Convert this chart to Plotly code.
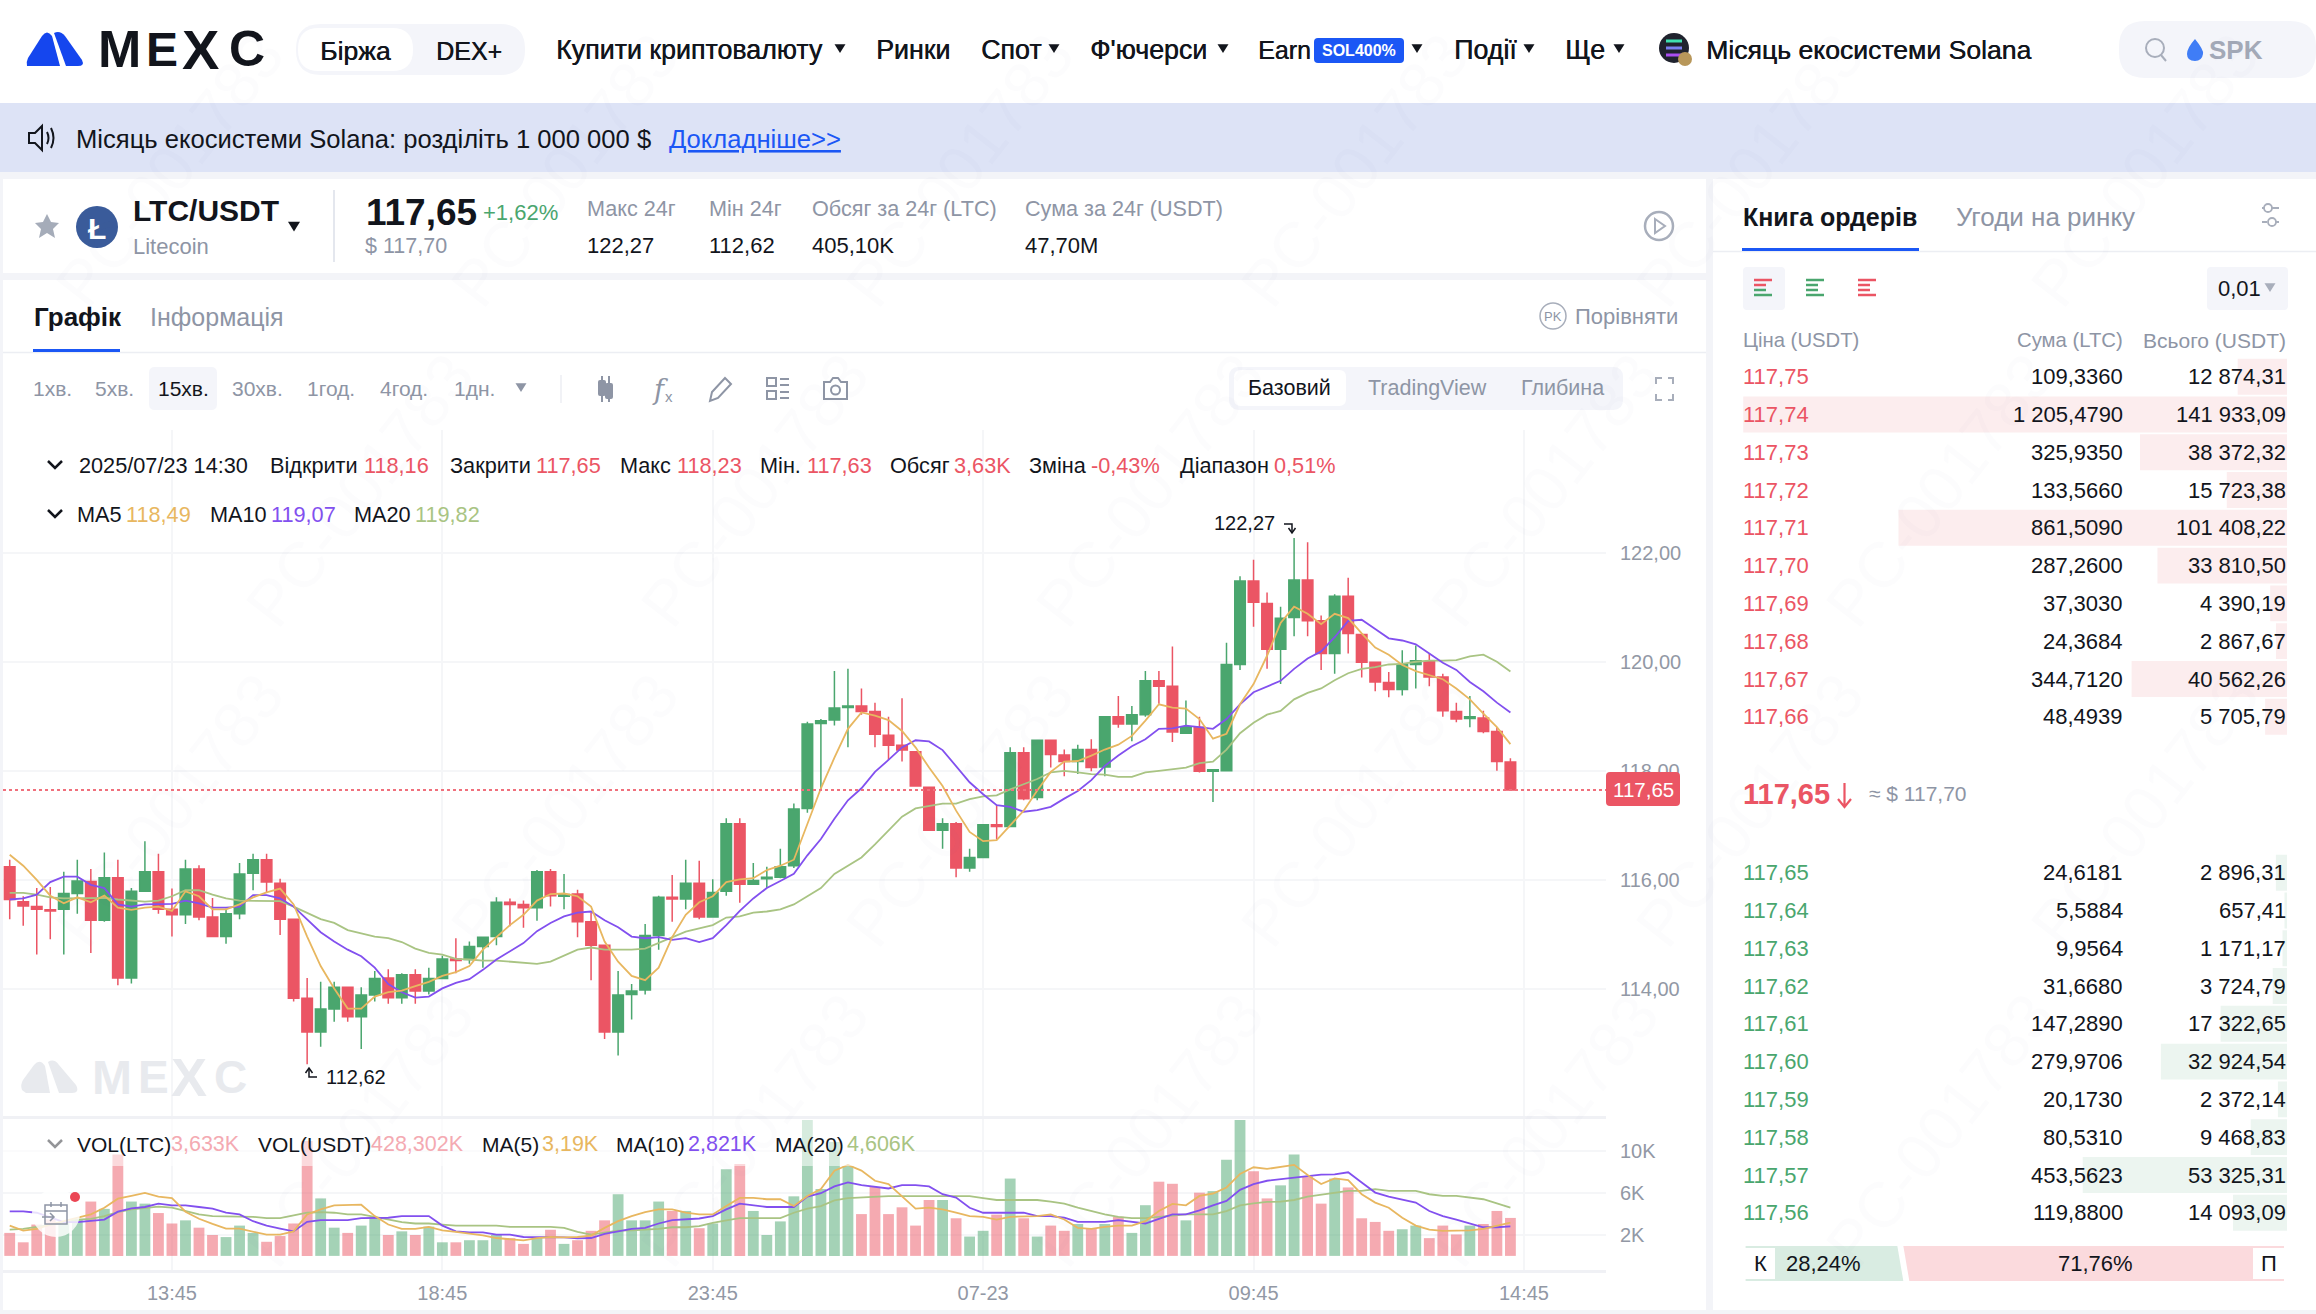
import re
import pandas as pd
import plotly.graph_objects as go

W, H = 2316, 1314
FONT = "Liberation Sans"
INK = "#12151c"
GREY = "#8e95a5"
RED = "#eb5564"
GREEN = "#4aa66e"
BLUE = "#1b57f5"
PANEL = "#f4f5fa"
ORANGE = "#e8b760"
PURPLE = "#8250ef"
SAGE = "#a9c483"
FAT = "0.45px 0 0 #12151c"

# 15 minute candles
times = pd.date_range("2025-07-22 10:45", periods=112, freq="15min")
opens = [116.24,115.60,115.51,115.45,115.46,115.75,115.97,115.26,116.04,114.20,115.79,116.15,115.46,115.36,116.20,115.32,114.96,115.38,116.12,116.37,
         115.94,115.28,113.83,113.21,113.63,114.03,113.49,113.89,114.20,113.84,114.26,113.96,114.19,114.55,114.54,114.78,114.96,115.59,115.55,115.49,
         116.15,115.70,115.74,115.23,114.80,113.21,113.90,113.98,114.98,115.68,115.65,115.94,115.32,115.79,117.03,115.92,116.02,116.05,116.26,117.31,
         118.87,118.93,119.16,119.19,119.09,118.65,118.47,118.35,117.70,116.91,117.03,116.22,116.41,117.01,116.98,118.33,117.51,118.56,118.29,118.17,
         118.39,118.07,118.99,118.86,119.03,119.65,119.55,118.69,118.80,117.99,118.00,119.95,121.48,121.07,120.23,120.81,121.50,120.75,120.15,121.20,
         120.50,119.99,119.62,119.49,119.95,120.00,119.72,119.09,118.96,118.97,118.72,118.16]
highs = [116.37,115.70,115.85,115.87,116.15,116.37,116.20,116.50,116.37,115.85,116.71,116.48,115.84,116.37,116.27,115.67,115.47,116.31,116.48,116.48,
         116.02,115.28,114.20,114.13,114.13,114.03,114.03,114.33,114.36,114.29,114.36,114.39,114.61,114.93,114.87,114.96,115.68,115.66,115.62,116.18,
         116.20,116.11,115.82,115.40,114.80,114.33,114.09,115.19,115.71,116.09,116.37,116.35,116.01,117.13,117.13,116.31,116.24,116.57,117.40,118.90,
         118.95,119.83,119.87,119.51,119.25,118.99,119.33,118.35,117.70,117.13,117.06,116.57,117.01,117.38,118.43,118.43,118.56,118.56,118.39,118.48,
         118.58,118.99,119.37,119.19,119.83,119.83,120.28,119.29,118.99,118.03,120.35,121.57,121.87,121.27,121.01,122.27,122.19,120.85,121.24,121.54,
         120.50,119.99,119.81,120.21,120.30,120.15,119.78,119.25,119.37,119.10,118.80,118.23]
lows = [115.28,115.16,114.63,114.91,114.63,115.38,114.66,115.23,114.07,114.10,115.79,115.38,114.96,115.19,115.26,114.96,114.83,115.28,115.81,115.77,
        114.99,113.77,112.62,112.94,113.40,113.40,112.90,113.77,113.73,113.73,113.73,113.90,114.19,114.29,114.46,114.39,114.80,115.15,115.12,115.25,
        115.51,115.46,114.95,114.16,113.08,112.78,113.44,113.90,114.72,115.23,115.46,115.28,115.32,115.71,115.58,115.92,115.85,116.03,116.22,117.23,
        117.64,118.83,118.43,119.03,118.43,118.20,118.17,117.72,116.90,116.57,116.05,116.15,116.41,116.74,116.97,117.46,117.46,118.06,117.90,117.94,
        117.99,117.90,118.79,118.54,118.99,119.23,118.53,118.69,117.97,117.43,118.00,119.85,120.64,119.87,119.59,120.47,120.47,119.85,119.78,120.15,
        119.71,119.46,119.35,119.38,119.51,119.55,118.99,118.89,118.80,118.69,118.00,117.63]
closes = [115.64,115.52,115.46,115.43,115.75,115.98,115.26,116.04,114.20,115.79,116.15,115.46,115.36,116.20,115.32,114.96,115.38,116.11,116.37,115.96,
          115.28,113.83,113.21,113.63,114.03,113.49,113.89,114.19,113.84,114.26,113.96,114.19,114.55,114.52,114.78,114.95,115.59,115.55,115.49,116.15,
          115.71,115.73,115.23,114.80,113.21,113.89,113.96,114.98,115.68,115.65,115.94,115.32,115.77,117.03,115.92,115.99,116.05,116.24,117.30,118.86,
          118.92,119.15,119.19,119.09,118.67,118.47,118.38,117.72,116.91,117.03,116.22,116.41,117.01,116.98,118.33,117.49,118.56,118.30,118.17,118.39,
          118.06,118.99,118.86,119.03,119.65,119.55,118.71,118.81,117.99,118.02,119.95,121.48,121.09,120.23,120.80,121.50,120.75,120.15,121.20,120.52,
          119.99,119.63,119.49,119.95,120.02,119.72,119.10,118.95,118.99,118.72,118.17,117.65]

ma5 = [116.46,116.26,116.00,115.71,115.57,115.68,115.59,115.71,115.49,115.45,115.49,115.51,115.43,115.79,115.70,115.46,115.46,115.55,115.68,115.77,
       115.84,115.55,114.96,114.42,114.01,113.64,113.64,113.86,113.94,113.97,114.05,114.13,114.24,114.31,114.42,114.72,114.95,115.17,115.36,115.62,
       115.74,115.75,115.70,115.51,114.87,114.50,114.24,114.16,114.39,114.95,115.36,115.59,115.70,115.96,116.01,116.03,116.18,116.26,116.37,117.04,
       117.68,118.24,118.77,119.07,119.01,118.93,118.73,118.43,118.06,117.72,117.27,116.88,116.71,116.73,117.01,117.27,117.64,117.98,118.17,118.18,
       118.28,118.39,118.48,118.64,118.92,119.22,119.16,119.14,118.95,118.59,118.68,119.22,119.59,120.11,120.71,121.01,120.88,120.69,120.88,120.80,
       120.52,120.26,120.13,119.94,119.83,119.75,119.68,119.51,119.31,119.05,118.80,118.49]
ma10 = [115.64,115.66,115.73,115.96,116.06,116.06,115.91,115.85,115.55,115.51,115.55,115.56,115.56,115.62,115.57,115.49,115.49,115.51,115.72,115.72,
        115.66,115.51,115.28,115.04,114.87,114.72,114.60,114.39,114.09,113.94,113.84,113.86,114.01,114.11,114.18,114.35,114.54,114.69,114.84,115.06,
        115.21,115.33,115.40,115.42,115.26,115.13,114.96,114.93,114.95,114.90,114.93,114.86,114.93,115.17,115.43,115.66,115.85,115.98,116.11,116.45,
        116.75,117.12,117.46,117.68,117.98,118.20,118.43,118.56,118.54,118.38,118.09,117.79,117.57,117.37,117.34,117.25,117.28,117.34,117.49,117.63,
        117.83,118.09,118.28,118.45,118.58,118.77,118.78,118.83,118.80,118.77,118.95,119.22,119.44,119.55,119.65,119.87,120.06,120.19,120.45,120.75,
        120.77,120.60,120.43,120.39,120.32,120.15,119.98,119.85,119.63,119.46,119.25,119.07]
ma20 = [115.76,115.76,115.73,115.68,115.66,115.66,115.67,115.67,115.64,115.62,115.60,115.62,115.70,115.81,115.81,115.73,115.66,115.62,115.62,115.62,
        115.61,115.51,115.40,115.28,115.21,115.08,115.02,114.96,114.93,114.86,114.74,114.66,114.63,114.55,114.54,114.52,114.52,114.50,114.48,114.46,
        114.50,114.61,114.72,114.76,114.72,114.72,114.72,114.74,114.84,114.95,115.05,115.11,115.17,115.31,115.33,115.40,115.42,115.46,115.55,115.70,
        115.85,116.11,116.26,116.41,116.65,116.90,117.16,117.31,117.36,117.40,117.40,117.48,117.53,117.55,117.66,117.76,117.85,117.97,118.00,117.97,
        117.94,117.93,117.89,117.89,117.97,118.00,118.03,118.06,118.14,118.17,118.39,118.69,118.88,119.03,119.10,119.31,119.43,119.51,119.66,119.79,
        119.87,119.90,119.95,119.96,120.00,120.02,120.02,120.03,120.10,120.13,120.00,119.82]

# volume in thousands of LTC
volumes = [2.2,1.3,3.0,3.5,3.2,3.5,5.2,4.5,9.7,5.2,5.0,4.1,3.1,3.4,2.7,2.0,1.8,2.9,2.2,1.35,1.9,3.1,11.0,5.5,2.7,2.2,2.9,3.6,2.0,2.35,
           2.0,2.8,1.3,1.3,1.5,1.5,2.0,1.7,1.15,1.7,2.5,1.15,1.5,2.4,3.4,5.9,3.4,3.4,5.2,4.3,4.3,2.65,3.1,8.3,8.8,4.3,2.0,3.3,5.7,13.0,
           6.4,10.9,8.6,4.0,6.6,4.0,4.65,2.9,5.35,5.35,3.6,1.85,2.4,3.95,7.4,3.6,1.85,2.9,2.4,3.05,2.6,3.05,3.75,2.2,4.85,7.1,6.9,3.4,6.05,6.2,
           9.2,13.0,8.1,5.5,6.75,9.7,7.6,5.0,7.4,6.55,3.6,3.25,2.4,2.55,2.9,1.7,2.9,2.05,2.9,3.05,4.3,3.633]
vol_ma5 = [2.90,2.42,2.58,3.00,3.32,3.65,3.97,4.61,5.48,5.74,6.03,5.68,5.52,4.23,3.55,3.06,2.61,2.61,2.35,2.03,2.03,2.35,3.97,4.45,4.84,4.90,4.90,3.81,3.00,2.58,
           2.58,2.77,2.45,2.29,2.13,1.97,1.71,1.61,1.48,1.71,1.81,1.77,1.81,1.94,2.68,3.32,3.81,4.19,4.45,4.45,4.13,3.97,3.97,4.77,5.55,5.55,5.42,5.42,4.77,5.74,
           6.39,8.16,8.70,8.16,7.19,6.87,5.74,4.52,4.61,4.45,4.13,3.81,3.74,3.48,3.74,3.81,3.81,3.97,3.48,2.68,2.58,2.77,2.90,2.90,3.32,4.29,4.97,4.84,5.74,5.97,
           6.55,7.84,8.48,8.32,8.48,8.71,7.74,6.87,7.42,7.26,5.90,5.10,4.61,3.65,2.90,2.52,2.39,2.39,2.45,2.58,2.90,3.19]
vol_ma10 = [4.26,4.26,4.13,3.65,3.23,3.23,3.32,3.48,4.23,4.55,4.68,5.00,4.84,4.84,4.68,4.52,4.13,3.97,3.32,2.90,2.61,2.35,3.26,3.42,3.42,3.42,3.61,3.61,3.65,3.81,
            3.81,3.81,2.90,2.35,2.26,2.26,2.03,2.03,1.81,1.81,1.81,1.77,1.68,1.71,2.10,2.35,2.58,2.68,3.10,3.42,3.48,3.58,3.81,4.45,5.00,4.84,4.68,4.68,4.68,5.68,
            6.00,6.65,7.03,6.77,6.61,6.45,6.77,6.77,6.65,5.90,5.58,4.61,4.13,4.13,4.13,4.13,3.81,3.81,3.65,3.26,3.26,3.26,3.42,3.26,3.10,3.55,3.97,3.97,4.35,4.84,
            5.26,6.32,6.87,7.19,7.35,7.52,7.68,7.77,7.81,8.00,7.03,6.06,5.68,5.42,5.10,4.29,3.81,3.48,3.10,2.74,2.74,2.82]
vol_ma20 = [2.52,2.58,2.77,3.00,3.16,3.48,3.55,3.81,4.19,4.45,4.61,4.71,4.61,4.29,3.97,3.81,3.81,3.81,3.74,3.61,3.61,3.87,4.13,4.19,4.13,3.97,3.97,3.74,3.48,3.23,
            3.10,3.10,3.00,2.90,2.90,2.90,2.90,2.77,2.77,2.77,2.77,2.68,2.29,2.03,2.19,2.42,2.45,2.52,2.58,2.74,2.74,2.84,3.16,3.39,3.61,3.61,3.61,3.61,4.13,4.52,
            4.77,5.32,5.52,5.58,5.71,5.71,5.71,5.71,5.71,5.71,5.71,5.71,5.52,5.35,5.35,5.35,5.35,5.19,5.00,4.61,4.29,3.97,3.74,3.61,3.61,3.74,3.81,3.97,3.97,3.97,
            4.29,4.84,5.03,5.16,5.19,5.35,5.68,5.84,6.06,6.23,6.23,6.39,6.23,6.23,6.23,5.90,5.74,5.74,5.58,5.42,5.03,4.61]

for series in (opens, highs, lows, closes, ma5, ma10, ma20, volumes, vol_ma5, vol_ma10, vol_ma20):
    assert len(series) == 112, len(series)

price_ticks = [114, 116, 118, 120, 122]
vol_ticks = [2, 6, 10]
time_ticks = ["2025-07-22 13:45", "2025-07-22 18:45", "2025-07-22 23:45", "2025-07-23 04:45", "2025-07-23 09:45", "2025-07-23 14:45"]
time_labels = ["13:45", "18:45", "23:45", "07-23", "09:45", "14:45"]

ask_prices = ["117,75", "117,74", "117,73", "117,72", "117,71", "117,70", "117,69", "117,68", "117,67", "117,66"]
ask_sums = ["109,3360", "1 205,4790", "325,9350", "133,5660", "861,5090", "287,2600", "37,3030", "24,3684", "344,7120", "48,4939"]
ask_totals = [12874.31, 141933.09, 38372.32, 15723.38, 101408.22, 33810.50, 4390.19, 2867.67, 40562.26, 5705.79]
bid_prices = ["117,65", "117,64", "117,63", "117,62", "117,61", "117,60", "117,59", "117,58", "117,57", "117,56"]
bid_sums = ["24,6181", "5,5884", "9,9564", "31,6680", "147,2890", "279,9706", "20,1730", "80,5310", "453,5623", "119,8800"]
bid_totals = [2896.31, 657.41, 1171.17, 3724.79, 17322.65, 32924.54, 2372.14, 9468.83, 53325.31, 14093.09]
buy_share, sell_share = 28.24, 71.76


def money(v):
    return f"{v:,.2f}".replace(",", " ").replace(".", ",")


def dom(a, b):
    return [1 - b / H, 1 - a / H]


shapes, notes = [], []


def txt(x, y, s, size=21, color=INK, anchor="left", weight=None, angle=0, family=FONT, shadow=None):
    font = dict(family=family, size=size, color=color, weight=weight)
    if shadow:
        font["shadow"] = shadow
    notes.append(dict(xref="paper", yref="paper", x=x / W, y=1 - y / H, text=s, showarrow=False,
                      xanchor=anchor, yanchor="middle", textangle=angle, borderpad=0, font=font))


def draw(d, fill=None, line=None, width=2, layer="above", dash=None):
    # path written in page pixels, converted to paper fractions
    d = re.sub(r"(-?[\d.]+),(-?[\d.]+)", lambda m: f"{float(m[1]) / W:.6f},{1 - float(m[2]) / H:.6f}", d)
    shapes.append(dict(type="path", xref="paper", yref="paper", path=d, fillcolor=fill or "rgba(0,0,0,0)",
                       line=dict(color=line or "rgba(0,0,0,0)", width=width if line else 0, dash=dash), layer=layer))


def box(x0, y0, x1, y1, fill, r=0, layer="below"):
    if r:
        d = (f"M{x0 + r},{y0} L{x1 - r},{y0} Q{x1},{y0} {x1},{y0 + r} L{x1},{y1 - r} Q{x1},{y1} {x1 - r},{y1} "
             f"L{x0 + r},{y1} Q{x0},{y1} {x0},{y1 - r} L{x0},{y0 + r} Q{x0},{y0} {x0 + r},{y0} Z")
    else:
        d = f"M{x0},{y0} L{x1},{y0} L{x1},{y1} L{x0},{y1} Z"
    draw(d, fill=fill, layer=layer)


def circle(cx, cy, r, fill=None, line=None, width=2, layer="above"):
    shapes.append(dict(type="circle", xref="paper", yref="paper", x0=(cx - r) / W, x1=(cx + r) / W,
                       y0=1 - (cy + r) / H, y1=1 - (cy - r) / H, fillcolor=fill or "rgba(0,0,0,0)",
                       line=dict(color=line or "rgba(0,0,0,0)", width=width if line else 0), layer=layer))


def caret(x, y, color=INK, s=5.5):
    draw(f"M{x - s},{y - s * 0.7} L{x + s},{y - s * 0.7} L{x},{y + s * 0.9} Z", fill=color)


# ── Page panels ────────────────────────────────────────────────
box(0, 0, W, 103, "white")
box(0, 103, W, 172, "#dde3f6")
box(3, 179, 1706, 273, "white")
box(3, 280, 1706, 1310, "white")
box(1713, 179, W, 1310, "white")

# ── Top navigation ─────────────────────────────────────────────
draw("M27,66 Q26,62 28,58 L42,36 Q47,29 52,36 L60,66 Z", fill="#1546ee")
draw("M54,33 Q60,30 65,36 L82,60 Q85,66 78,66 L66,66 Z", fill="#1546ee")
for letter, x, sz in [("M", 97, 52), ("E", 145, 48), ("X", 181, 56), ("C", 228, 50)]:
    txt(x, 49, letter, size=sz, weight=700)
box(296, 24, 525, 75, PANEL, r=25)
box(298, 28, 413, 71, "white", r=21)
txt(355, 51, "Біржа", size=26.5, anchor="center", shadow=FAT)
txt(435, 51, "DEX+", size=25, shadow=FAT)
for label, x, cx, sz in [("Купити криптовалюту", 555, 840, 26.8), ("Ринки", 875, None, 26.8), ("Спот", 980, 1054, 26.8), ("Ф'ючерси", 1089, 1223, 26.8),
                         ("Earn", 1257, None, 25), ("Події", 1453, 1529, 26.8), ("Ще", 1564, 1619, 26.8)]:
    txt(x, 50, label, size=sz, shadow=FAT)
    if cx:
        caret(cx, 48)
box(1314, 38, 1404, 63, BLUE, r=4, layer="above")
txt(1359, 51, "SOL400%", size=16, color="white", anchor="center", weight=700)
caret(1417, 48)
circle(1674, 48, 15, fill="#20232e")
for yy, col in [(41, "#3fe0b0"), (48, "#7a7ff0"), (55, "#a94df0")]:
    draw(f"M1666,{yy} L1682,{yy}", line=col, width=3)
circle(1685, 59, 7, fill="#b8975a")
txt(1705, 50, "Місяць екосистеми Solana", size=26.6, shadow=FAT)
box(2119, 21, 2316, 78, PANEL, r=26)
circle(2155, 48, 9, line="#a8aebb", width=2)
draw("M2161,55 L2166,61", line="#a8aebb", width=2)
draw("M2195,39 Q2204,50 2203,54 Q2202,61 2195,61 Q2187,61 2187,54 Q2187,48 2195,39 Z", fill="#3f7df6")
txt(2208, 50, "SPK", size=26, color="#a3a9b7", weight=700)

# ── Announcement ───────────────────────────────────────────────
draw("M29,133 L35,133 L42,126 L42,150 L35,143 L29,143 Z", line=INK, width=2)
draw("M47,132 Q50,138 47,144", line=INK, width=2)
draw("M51,128 Q56,138 51,148", line=INK, width=2)
txt(75, 139, "Місяць екосистеми Solana: розділіть 1 000 000 $", size=25.6)
txt(668, 139, "<u>Докладніше&gt;&gt;</u>", size=25.6, color=BLUE)

# ── Ticker row ─────────────────────────────────────────────────
draw("M47,214 L51,222 L59,223 L53,229 L55,238 L47,233 L39,238 L41,229 L35,223 L43,222 Z", fill="#a5acb9")
circle(97, 227, 21, fill="#3a5b9a")
txt(97, 228, "Ł", size=30, color="white", anchor="center", weight=700)
txt(132, 211, "LTC/USDT", size=30, weight=700)
txt(132, 247, "Litecoin", size=22, color=GREY)
caret(294, 226, s=6)
draw("M334,190 L334,262", line="#e4e7ee", width=2, layer="below")
txt(365, 212, "117,65", size=37, weight=700)
txt(482, 212, "+1,62%", size=22, color=GREEN)
txt(364, 246, "$ 117,70", size=21.5, color=GREY)
for label, value, x in [("Макс 24г", "122,27", 586), ("Мін 24г", "112,62", 708), ("Обсяг за 24г (LTC)", "405,10K", 811), ("Сума за 24г (USDT)", "47,70M", 1024)]:
    txt(x, 208, label, size=21.6, color=GREY)
    txt(x, 245, value, size=22)
circle(1659, 226, 14, line="#a8aebb", width=2.5)
draw("M1655,219 L1665,226 L1655,233 Z", line="#a8aebb", width=2)

# ── Chart tabs and toolbar ─────────────────────────────────────
txt(33, 317, "Графік", size=26, weight=700)
box(33, 349, 120, 352, BLUE, layer="above")
txt(149, 317, "Інформація", size=25, color=GREY)
draw("M3,352.5 L1706,352.5", line="#eceef3", width=1.5, layer="below")
circle(1553, 316, 13, line="#a8aebb", width=1.5)
txt(1553, 316, "PK", size=13, color=GREY, anchor="center")
txt(1574, 316, "Порівняти", size=22, color=GREY)
box(149, 367, 217, 410, PANEL, r=6)
for label, x, col in [("1хв.", 32, GREY), ("5хв.", 94, GREY), ("15хв.", 157, INK), ("30хв.", 231, GREY), ("1год.", 306, GREY), ("4год.", 379, GREY), ("1дн.", 453, GREY)]:
    txt(x, 388, label, size=21, color=col)
caret(521, 387, color=GREY)
draw("M561,375 L561,403", line="#eceef3", width=1.5, layer="below")
draw("M602,376 L602,402 M609,376 L609,402", line=GREY, width=2)
box(598, 380, 606, 396, GREY, r=2, layer="above")
box(605, 383, 613, 399, GREY, r=2, layer="above")
txt(660, 389, "<i>f</i>", size=27, color=GREY, anchor="center", family="DejaVu Serif")
txt(669, 396, "x", size=15, color=GREY, anchor="center")
draw("M710,401 L712,392 L725,378 L731,384 L718,398 Z", line=GREY, width=2)
for yy in (378, 391):
    draw(f"M767,{yy} L776,{yy} L776,{yy + 8} L767,{yy + 8} Z", line=GREY, width=2)
for yy in (379, 385, 392, 398):
    draw(f"M780,{yy} L789,{yy}", line=GREY, width=2)
draw("M824,382 L830,382 L833,378 L838,378 L841,382 L847,382 L847,399 L824,399 Z", line=GREY, width=2)
circle(835.5, 390, 4.5, line=GREY, width=2)
box(1229, 367, 1623, 410, PANEL, r=10)
box(1234, 370, 1346, 406, "white", r=7)
txt(1289, 388, "Базовий", size=21.5, anchor="center")
txt(1367, 388, "TradingView", size=21.5, color=GREY)
txt(1520, 388, "Глибина", size=21.5, color=GREY)
for d in ["M1656,384 L1656,378 L1662,378", "M1668,378 L1673,378 L1673,384", "M1656,394 L1656,400 L1662,400", "M1668,400 L1673,400 L1673,394"]:
    draw(d, line="#a8aebb", width=2)

# ── Chart legends ──────────────────────────────────────────────
for cy in (465, 514, 1144):
    draw(f"M48,{cy - 4} L55,{cy + 3} L62,{cy - 4}", line=INK, width=2.5)
txt(78, 465, "2025/07/23 14:30", size=21.7)
for label, value, x, vx in [("Відкрити", "118,16", 269, 363), ("Закрити", "117,65", 449, 535), ("Макс", "118,23", 619, 676), ("Мін.", "117,63", 759, 806),
                            ("Обсяг", "3,63K", 889, 953), ("Зміна", "-0,43%", 1028, 1090), ("Діапазон", "0,51%", 1179, 1273)]:
    txt(x, 465, label, size=21.7)
    txt(vx, 465, value, size=21.7, color=RED)
for label, value, x, vx, col in [("MA5", "118,49", 76, 125, ORANGE), ("MA10", "119,07", 209, 270, PURPLE), ("MA20", "119,82", 353, 414, SAGE)]:
    txt(x, 514, label, size=21.7)
    txt(vx, 514, value, size=21.7, color=col)
for label, value, x, vx, col in [("VOL(LTC)", "3,633K", 76, 170, "#f4aab2"), ("VOL(USDT)", "428,302K", 257, 370, "#f4aab2"), ("MA(5)", "3,19K", 481, 541, ORANGE),
                                 ("MA(10)", "2,821K", 615, 687, PURPLE), ("MA(20)", "4,606K", 774, 846, SAGE)]:
    txt(x, 1144, label, size=21)
    txt(vx, 1144, value, size=21.5, color=col)
box(3, 1119, 916, 1166, "rgba(255,255,255,0.55)", layer="above")

# high and low markers
txt(1276, 523, "122,27", size=20, anchor="right")
draw("M1284,524 L1292,524 L1292,532", line=INK, width=1.5)
draw("M1288.5,528 L1292,533 L1295.5,528", line=INK, width=1.5)
txt(325, 1077, "112,62", size=20)
draw("M317,1077 L309,1077 L309,1069", line=INK, width=1.5)
draw("M305.5,1073 L309,1068 L312.5,1073", line=INK, width=1.5)

# chart watermark
draw("M22,1090 Q20,1085 23,1080 L34,1065 Q40,1058 45,1066 L50,1093 L26,1093 Z", fill="#e8eaee", layer="below")
draw("M48,1062 Q54,1058 59,1065 L76,1085 Q80,1093 72,1093 L59,1093 Z", fill="#e8eaee", layer="below")
for letter, x, sz in [("M", 91, 48), ("E", 137, 46), ("X", 170, 54), ("C", 213, 46)]:
    txt(x, 1077, letter, size=sz, color="#e8eaee", weight=700)

# current price tag
box(1606, 772, 1680, 806, RED, r=4, layer="above")
txt(1643, 789, "117,65", size=20.5, color="white", anchor="center")

# calendar shortcut
circle(56, 1213, 24, fill="rgba(255,255,255,0.82)")
draw("M45,1205 L67,1205 L67,1224 L45,1224 Z M45,1211 L67,1211 M51,1202 L51,1207 M61,1202 L61,1207", line="#8e95a5", width=1.5)
draw("M42,1217 L54,1217 M50,1213 L54,1217 L50,1221", line="#8e95a5", width=1.5)
circle(75, 1197, 5, fill="#eb4654")

# ── Order book ─────────────────────────────────────────────────
txt(1742, 217, "Книга ордерів", size=25, weight=700)
box(1742, 248, 1919, 251, BLUE, layer="above")
txt(1955, 217, "Угоди на ринку", size=26, color=GREY)
draw("M1713,251.5 L2316,251.5", line="#eceef3", width=1.5, layer="below")
draw("M2262,208 L2264,208 M2272,208 L2279,208 M2262,222 L2267,222 M2276,222 L2279,222", line="#a8aebb", width=1.8)
circle(2268, 208, 4, line="#a8aebb", width=1.8)
circle(2272, 222, 4, line="#a8aebb", width=1.8)
box(1743, 267, 1785, 310, PANEL, r=4)
for x0, c1, c2 in [(1754, RED, GREEN), (1806, GREEN, GREEN), (1858, RED, RED)]:
    for k, (yy, wd) in enumerate([(280, 18), (285, 12), (290, 12), (295, 18)]):
        draw(f"M{x0},{yy} L{x0 + wd},{yy}", line=c1 if k < 2 else c2, width=2.5)
box(2207, 267, 2288, 310, PANEL, r=4)
txt(2217, 288, "0,01", size=22)
caret(2270, 287, color="#a8aebb")
txt(1742, 340, "Ціна (USDT)", size=20.3, color=GREY)
txt(2124, 340, "Сума (LTC)", size=20.3, color=GREY, anchor="right")
txt(2287, 340, "Всього (USDT)", size=21, color=GREY, anchor="right")
for top, prices, sums, totals, col in [(376.7, ask_prices, ask_sums, ask_totals, RED), (872.7, bid_prices, bid_sums, bid_totals, GREEN)]:
    for r, (p, s, t) in enumerate(zip(prices, sums, totals)):
        yy = top + r * 37.8
        txt(1742, yy, p, size=22, color=col)
        txt(2124, yy, s, size=22, anchor="right")
        txt(2287, yy, money(t), size=22, anchor="right")
txt(1742, 794, "117,65", size=29, color=RED, weight=700)
draw("M1844.5,783 L1844.5,806 M1838,799 L1844.5,807 L1851,799", line=RED, width=2.2)
txt(1868, 793, "≈ $ 117,70", size=21, color=GREY)

bar_l, bar_r = 1742.6, 2287
split = bar_l + (bar_r - bar_l) * buy_share / 100
draw(f"M{bar_l + 3},1246 L{split + 1},1246 L{split + 7},1281 L{bar_l + 3},1281 Z", fill="#d9ece2", layer="below")
draw(f"M{split + 7},1246 L{bar_r - 3},1246 L{bar_r - 3},1281 L{split + 13},1281 Z", fill="#fbdadd", layer="below")
box(1745, 1248, 1775, 1279, "white")
box(2253, 1248, 2285, 1279, "white")
txt(1760, 1263, "К", size=22, anchor="center")
txt(1785, 1263, f"{buy_share:.2f}%".replace(".", ","), size=22)
txt(2095, 1263, f"{sell_share:.2f}%".replace(".", ","), size=22, anchor="center")
txt(2269, 1263, "П", size=22, anchor="center")

# page watermark, kept clear of the page edges
for row, cy in enumerate([170, 490, 810, 1130]):
    for col in range(6):
        cx = 170 + col * 395 + (row % 2) * 190
        if cx <= 2150:
            txt(cx, cy, "PC-001783", size=64, color="rgba(110,120,140,0.02)", anchor="center", angle=-52)

# ── Traces ─────────────────────────────────────────────────────
vol_colors = ["rgba(74,166,110,0.5)" if c >= o else "rgba(235,85,100,0.5)" for o, c in zip(opens, closes)]

fig = go.Figure()
fig.add_trace(go.Candlestick(
    x=times, open=opens, high=highs, low=lows, close=closes,
    increasing=dict(line=dict(color=GREEN, width=1.5), fillcolor=GREEN),
    decreasing=dict(line=dict(color=RED, width=1.5), fillcolor=RED),
    whiskerwidth=0, showlegend=False,
))
for series, col in [(ma20, SAGE), (ma10, PURPLE), (ma5, ORANGE)]:
    fig.add_trace(go.Scatter(x=times, y=series, mode="lines", line=dict(color=col, width=1.8), showlegend=False))
fig.add_trace(go.Bar(x=times, y=volumes, marker=dict(color=vol_colors, line_width=0), width=720000, xaxis="x2", yaxis="y2", showlegend=False))
for series, col in [(vol_ma20, SAGE), (vol_ma10, PURPLE), (vol_ma5, ORANGE)]:
    fig.add_trace(go.Scatter(x=times, y=series, mode="lines", line=dict(color=col, width=1.8), xaxis="x2", yaxis="y2", showlegend=False))
fig.add_trace(go.Bar(x=ask_totals, y=ask_prices, orientation="h", marker=dict(color="#fcedee", line_width=0), width=0.95, xaxis="x3", yaxis="y3", showlegend=False))
fig.add_trace(go.Bar(x=bid_totals, y=bid_prices, orientation="h", marker=dict(color="#ecf5f0", line_width=0), width=0.95, xaxis="x3", yaxis="y4", showlegend=False))

shapes.append(dict(type="line", xref="x domain", yref="y", x0=0, x1=1, y0=closes[-1], y1=closes[-1],
                   line=dict(color="#f0707c", width=2, dash="dot"), layer="above"))

x_range = ["2025-07-22 10:37:33", "2025-07-23 16:16:03"]
x_dom = [3 / W, 1606 / W]
grid = "#f5f6f8"
axis_font = dict(color="#9298a5", size=20)
fig.update_layout(
    width=W, height=H, autosize=False, margin=dict(l=0, r=0, t=0, b=0),
    paper_bgcolor="#f3f4f8", plot_bgcolor="rgba(0,0,0,0)",
    separators=", ", showlegend=False, hovermode=False, barmode="overlay", boxgap=0.22, boxgroupgap=0,
    font=dict(family=FONT, color=GREY, size=21),
    xaxis=dict(domain=x_dom, range=x_range, type="date", anchor="y", rangeslider_visible=False, tickvals=time_ticks,
               showticklabels=False, showgrid=True, gridcolor=grid, gridwidth=1.5, zeroline=False, showline=True, linecolor="#f0f1f5", linewidth=3),
    yaxis=dict(domain=dom(430, 1116), range=[111.67, 124.25], side="right", anchor="x", tickvals=price_ticks, tickformat=".2f",
               showgrid=True, gridcolor=grid, gridwidth=2, zeroline=False, ticks="outside", ticklen=9, tickcolor="rgba(0,0,0,0)",
               tickfont=axis_font),
    xaxis2=dict(domain=x_dom, range=x_range, type="date", anchor="y2", matches="x", tickvals=time_ticks, ticktext=time_labels,
                showgrid=True, gridcolor=grid, gridwidth=1.5, zeroline=False, showline=True, linecolor="#f0f1f5", linewidth=3,
                ticks="outside", ticklen=3, tickcolor="rgba(0,0,0,0)", tickfont=axis_font),
    yaxis2=dict(domain=dom(1119, 1270), range=[-1.35, 13.1], side="right", anchor="x2", tickvals=vol_ticks, ticktext=["2K", "6K", "10K"],
                showgrid=True, gridcolor=grid, gridwidth=2, zeroline=False, ticks="outside", ticklen=9, tickcolor="rgba(0,0,0,0)",
                tickfont=axis_font),
    xaxis3=dict(domain=[bar_l / W, bar_r / W], range=[142100, 0], anchor="y3", visible=False),
    yaxis3=dict(domain=dom(357.8, 735.6), type="category", categoryorder="array", categoryarray=ask_prices, range=[9.5, -0.5], anchor="x3", visible=False),
    yaxis4=dict(domain=dom(853.8, 1231.6), type="category", categoryorder="array", categoryarray=bid_prices, range=[9.5, -0.5], anchor="x3", visible=False),
    shapes=shapes, annotations=notes,
)

fig.write_html("out.html", config={"displayModeBar": False},
               post_script="document.body.style.margin='0';document.documentElement.style.overflow='hidden';")
